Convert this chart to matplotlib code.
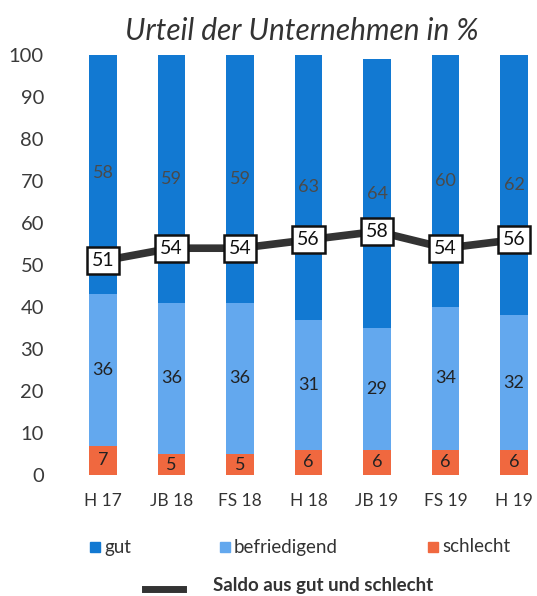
import matplotlib
matplotlib.use("Agg")
import matplotlib.pyplot as plt
from matplotlib.patches import Rectangle
from matplotlib.lines import Line2D
import numpy as np

plt.rcParams['font.family'] = ['Lato', 'DejaVu Sans']

categories = ["H 17", "JB 18", "FS 18", "H 18", "JB 19", "FS 19", "H 19"]
schlecht = [7, 5, 5, 6, 6, 6, 6]
befriedigend = [36, 36, 36, 31, 29, 34, 32]
gut = [58, 59, 59, 63, 64, 60, 62]
saldo = [51, 54, 54, 56, 58, 54, 56]
yticks = [0, 10, 20, 30, 40, 50, 60, 70, 80, 90, 100]

c_gut = "#1279d2"
c_bef = "#63a8ee"
c_sch = "#f0683f"
c_line = "#333333"

W, H = 537, 596
fig = plt.figure(figsize=(W/100, H/100), dpi=100)
ax_left = 62 / W
ax_right = 540 / W
ax_bottom = 1 - 475 / H
ax_top = 1 - 55 / H
ax = fig.add_axes([ax_left, ax_bottom, ax_right - ax_left, ax_top - ax_bottom])

x = np.arange(len(categories))
bw = 0.40
s = np.array(schlecht)
b = np.array(befriedigend)
g = np.array(gut)
ax.bar(x, s, bw, color=c_sch, zorder=2)
ax.bar(x, b, bw, bottom=s, color=c_bef, zorder=2)
ax.bar(x, g, bw, bottom=s + b, color=c_gut, zorder=2)

for i in range(len(x)):
    ax.text(x[i], s[i] / 2, str(s[i]), ha='center', va='center', fontsize=13, color='#222222', zorder=3)
    ax.text(x[i], s[i] + b[i] / 2, str(b[i]), ha='center', va='center', fontsize=13, color='#222222', zorder=3)
    ax.text(x[i], s[i] + b[i] + g[i] / 2, str(g[i]), ha='center', va='center', fontsize=13, color='#4a4a4a', zorder=3)

ax.plot(x, saldo, color=c_line, lw=5.5, zorder=4, solid_capstyle='butt')
for i in range(len(x)):
    ax.text(x[i], saldo[i], str(saldo[i]), ha='center', va='center', fontsize=14, color='#111111', zorder=5,
            bbox=dict(boxstyle='square,pad=0.25', fc='white', ec='#111111', lw=1.8))

ax.set_xlim(-0.6, 6.38)
ax.set_ylim(0, 100)
ax.set_yticks(yticks)
ax.set_yticklabels([str(t) for t in yticks], fontsize=14.5, color='#3a3a3a')
ax.set_xticks(x)
ax.set_xticklabels(categories, fontsize=12.5, color='#333333')
ax.tick_params(axis='both', length=0)
ax.tick_params(axis='y', pad=13)
ax.tick_params(axis='x', pad=13)
for sp in ax.spines.values():
    sp.set_visible(False)

fig.text(302 / W, 1 - 31 / H, "Urteil der Unternehmen in %", ha='center', va='center', fontsize=21.5,
         style='italic', color='#333333')

def legend_patch(px, py, color, label):
    sz = 10
    fig.patches.append(Rectangle((px / W, 1 - (py + sz / 2) / H), sz / W, sz / H,
                                 transform=fig.transFigure, color=color, figure=fig))
    fig.text((px + sz + 4) / W, 1 - py / H, label, ha='left', va='center', fontsize=13.5, color='#333333')

legend_patch(90, 547, c_gut, "gut")
legend_patch(220, 547, c_bef, "befriedigend")
legend_patch(428, 547, c_sch, "schlecht")

fig.lines.append(Line2D([145 / W, 183 / W], [1 - 589 / H, 1 - 589 / H], transform=fig.transFigure,
                        color=c_line, lw=5, figure=fig))
fig.text(213 / W, 1 - 585 / H, "Saldo aus gut und schlecht", ha='left', va='center', fontsize=13.5,
         fontweight='bold', color='#333333')

fig.savefig("out.png", dpi=100)
